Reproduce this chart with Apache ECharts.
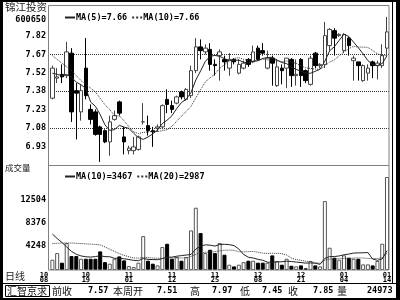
<!DOCTYPE html>
<html><head><meta charset="utf-8">
<script src="https://cdn.jsdelivr.net/npm/echarts@6/dist/echarts.min.js"></script>
<style>html,body{margin:0;padding:0;background:#fff}#c{width:400px;height:300px}</style>
</head><body><div id="c"></div>
<script>
// ---- data ----
const openP  = [7.32,7.48,7.51,7.50,7.68,7.38,7.21,7.56,7.23,7.21, 7.09,7.06,6.97,7.15,7.29,7.01,6.90,6.90,6.91,7.13, 7.10,7.06,7.08,7.09,7.31,7.26,7.28,7.37,7.31,7.34, 7.54,7.73,7.69,7.71,7.59,7.66,7.63,7.56,7.63,7.52, 7.56,7.63,7.61,7.72,7.70,7.56,7.64,7.42,7.56,7.56, 7.63,7.50,7.63,7.54,7.43,7.68,7.58,7.59,7.74,7.86, 7.82,7.70,7.80,7.62,7.61,7.46,7.52,7.61,7.58,7.58, 7.72];
const closeP = [7.56,7.49,7.49,7.69,7.21,7.36,7.38,7.34,7.15,7.03, 7.03,6.97,7.13,7.18,7.20,6.97,6.92,6.93,7.01,7.13, 7.06,7.05,7.09,7.26,7.27,7.23,7.33,7.33,7.39,7.54, 7.73,7.70,7.72,7.59,7.58,7.69,7.61,7.63,7.61,7.59, 7.60,7.59,7.69,7.63,7.68,7.64,7.60,7.57,7.54,7.64, 7.50,7.51,7.50,7.46,7.64,7.58,7.59,7.82,7.87,7.80, 7.83,7.83,7.74,7.64,7.58,7.58,7.56,7.58,7.60,7.66, 7.85];
const highP  = [7.58,7.56,7.59,7.77,7.72,7.44,7.43,7.80,7.27,7.23, 7.10,7.07,7.18,7.22,7.30,7.09,6.94,7.01,7.02,7.28, 7.18,7.09,7.11,7.27,7.39,7.30,7.34,7.38,7.40,7.58, 7.80,7.79,7.75,7.76,7.63,7.71,7.66,7.68,7.64,7.63, 7.62,7.64,7.74,7.74,7.76,7.70,7.66,7.63,7.59,7.64, 7.64,7.63,7.64,7.55,7.66,7.69,7.60,7.93,7.88,7.88, 7.84,7.84,7.81,7.66,7.61,7.59,7.59,7.62,7.62,7.75, 7.97];
const lowP   = [7.31,7.44,7.44,7.48,7.13,6.99,7.14,7.31,7.11,7.02, 6.81,6.96,6.86,7.14,7.18,6.87,6.87,6.87,6.90,7.11, 7.02,6.93,7.05,7.07,7.20,7.20,7.27,7.31,7.30,7.32, 7.52,7.63,7.67,7.54,7.50,7.46,7.54,7.50,7.59,7.51, 7.55,7.57,7.60,7.62,7.66,7.55,7.42,7.41,7.43,7.40, 7.41,7.42,7.41,7.44,7.42,7.56,7.56,7.56,7.70,7.66, 7.81,7.68,7.66,7.46,7.46,7.45,7.46,7.48,7.47,7.56, 7.66];
const volume = [1830,3010,1300,4790,2480,2480,2000,2000,2000,2000, 3310,1400,1120,2000,2420,1710,700,520,1300,6030, 1650,1120,820,4080,4670,2000,2300,1650,2300,7040, 11080,6570,3010,3600,3010,4790,2720,940,640,940, 1400,1650,1650,1300,1300,1300,2600,1590,940,2000, 760,640,820,300,1590,820,640,12260,3960,2180, 1830,2600,2180,2000,2000,1000,1000,820,1590,4670, 16540];
const ma5  = [7.52,7.51,7.50,7.51,7.486,7.448,7.427,7.397,7.289,7.255, 7.188,7.106,7.062,7.068,7.102,7.088,7.078,7.039,7.004,6.990, 7.009,7.034,7.065,7.116,7.144,7.179,7.236,7.285,7.311,7.365, 7.465,7.538,7.614,7.654,7.662,7.654,7.636,7.619,7.623,7.624, 7.607,7.603,7.615,7.619,7.638,7.644,7.647,7.624,7.605,7.596, 7.569,7.550,7.535,7.519,7.519,7.535,7.551,7.616,7.699,7.732, 7.783,7.831,7.814,7.768,7.723,7.674,7.620,7.589,7.581,7.597, 7.660];
const ma10 = [7.66,7.63,7.60,7.57,7.54,7.50,7.46,7.43,7.40,7.370, 7.318,7.266,7.229,7.179,7.178,7.138,7.092,7.051,7.036,7.046, 7.049,7.056,7.052,7.060,7.067,7.094,7.135,7.175,7.214,7.254, 7.322,7.387,7.450,7.483,7.513,7.559,7.587,7.617,7.638,7.643, 7.630,7.620,7.617,7.621,7.631,7.626,7.625,7.619,7.612,7.617, 7.607,7.599,7.579,7.562,7.558,7.552,7.551,7.576,7.609,7.626, 7.659,7.691,7.715,7.734,7.728,7.728,7.726,7.701,7.675,7.660, 7.662];
const volMa10 = [6400,5600,4900,4100,3300,2800,2500,2350,2300,2389, 2537,2376,2358,2079,2073,1996,1866,1718,1648,2051, 1885,1857,1827,2035,2260,2289,2449,2562,2662,2763, 3706,4251,4470,4422,4256,4535,4577,4506,4340,3730, 2762,2270,2134,1904,1733,1384,1372,1437,1467,1573, 1509,1408,1325,1225,1254,1206,1010,2077,2379,2397, 2504,2700,2836,3006,3047,3065,3101,1957,1720,1969, 3440];
const volMa20 = [4700,4750,4800,4800,4800,4750,4700,4650,4600,4550, 4450,4100,3700,3300,2900,2600,2350,2150,2100,2220, 2211,2117,2093,2057,2167,2143,2158,2140,2155,2407, 2796,3054,3149,3229,3258,3412,3513,3534,3501,3247, 3234,3261,3302,3163,2995,2960,2975,2972,2904,2652, 2136,1839,1730,1565,1494,1295,1191,1757,1923,1985, 2007,2054,2081,2116,2151,2136,2056,2017,2050,2183, 2972];
const xTickIndex = [0,7,16,25,34,43,52,61,70];
const xTickText  = [['10','08'],['10','19'],['11','01'],['11','12'],['11','25'],['12','08'],['12','21'],['01','04'],['01','14']];
const priceLegend = ['MA(5)=7.66','MA(10)=7.66'];
const volLegend   = ['MA(10)=3467','MA(20)=2987'];
const volTicks = [4248, 8376, 12504];
const stockName = '锦江投资', stockCode = '600650';
const statusItems = [['前收','7.57'],['本周开','7.51'],['高','7.97'],['低','7.45'],['收','7.85'],['量','24973']];

// ---- chart ----
const MONO = '"DejaVu Sans Mono", "Liberation Mono", monospace';
const CJK = '"Noto Sans CJK SC", sans-serif';
const cats = openP.map((_, i) => String(i));
const up = i => closeP[i] >= openP[i];
const chart = echarts.init(document.getElementById('c'));
const SOLID_ICON = 'rect';
const DOT_ICON = 'path://M0,0h1v1h-1zM2,0h1v1h-1zM4,0h1v1h-1zM6,0h1v1h-1zM8,0h1v1h-1zM10,0h1v1h-1z';

const statusPos = [[52,88],[113,157],[190,212],[240,262],[288,313],[337,367]];
const statusGraphics = [];
statusItems.forEach((it, k) => {
  statusGraphics.push({type:'text', silent:true, z:110, style:{text:it[0], x:statusPos[k][0], y:291, font:'10px ' + CJK, fill:'#111', verticalAlign:'middle'}});
  statusGraphics.push({type:'text', silent:true, z:110, style:{text:it[1], x:statusPos[k][1], y:291, font:'bold 8.5px ' + MONO, fill:'#000', verticalAlign:'middle'}});
});

const legendCommon = {itemWidth: 10, itemHeight: 1, itemGap: 4, selectedMode: false,
  textStyle: {fontFamily: MONO, fontWeight: 'bold', fontSize: 8.5, color: '#000', padding: [0,0,0,-4]}};

const option = {
  animation: false,
  backgroundColor: '#fff',
  grid: [
    {left: 50, top: 5, width: 339.4, height: 160},
    {left: 50, top: 165, width: 339.4, height: 105},
    {left: 48, top: 54.375, width: 341.4, height: 110.625}
  ],
  legend: [
    Object.assign({data: priceLegend, left: 59, top: 8}, legendCommon),
    Object.assign({data: volLegend, left: 59, top: 167}, legendCommon)
  ],
  xAxis: [
    {type: 'category', gridIndex: 0, data: cats, axisLine: {show: false}, axisTick: {show: false}, axisLabel: {show: false}},
    {type: 'category', gridIndex: 1, data: cats, axisLine: {show: false}, axisTick: {show: false},
     axisLabel: {interval: 0, margin: 2, color: '#000', fontFamily: MONO, fontWeight: 'bold', fontSize: 7, lineHeight: 5.5,
       formatter: (v, i) => {
         const k = xTickIndex.indexOf(i);
         if (k < 0) return '';
         const t = xTickText[k];
         return k === 0 ? '{s|' + t[0] + '}\n{s|' + t[1] + '}' : t[0] + '\n' + t[1];
       },
       rich: {s: {fontFamily: MONO, fontWeight: 'bold', fontSize: 7, lineHeight: 5.5, color: '#000', padding: [0, 17, 0, 0]}}}},
    {type: 'category', gridIndex: 2, data: cats, show: false}
  ],
  yAxis: [
    {type: 'value', gridIndex: 0, min: 6.785, max: 8.065, interval: 0.1475,
     axisLine: {show: false}, axisTick: {show: false}, splitLine: {show: false},
     axisLabel: {margin: 4, color: '#000', fontFamily: MONO, fontWeight: 'bold', fontSize: 8.5,
       formatter: v => (v > 6.9 && v < 7.9) ? (v + 1e-4).toFixed(2) : ''}},
    {type: 'value', gridIndex: 1, min: 0, max: 18680,
     axisLine: {show: false}, axisTick: {show: false}, splitLine: {show: false},
     axisLabel: {customValues: volTicks, margin: 4, color: '#000', fontFamily: MONO, fontWeight: 'bold', fontSize: 8.5,
       formatter: v => String(Math.round(v))}},
    {type: 'value', gridIndex: 2, min: 6.785, max: 7.67, interval: 0.295,
     axisLine: {show: false}, axisTick: {show: false}, axisLabel: {show: false},
     splitLine: {show: true, lineStyle: {type: 'dotted', color: '#333', width: 1}}}
  ],
  series: [
    {type: 'candlestick', xAxisIndex: 0, yAxisIndex: 0, barWidth: 4,
     data: openP.map((o, i) => [o, closeP[i], lowP[i], highP[i]]),
     itemStyle: {color: '#fff', color0: '#000', borderColor: '#444', borderColor0: '#000', borderWidth: 1}},
    {name: priceLegend[0], type: 'line', xAxisIndex: 0, yAxisIndex: 0, data: ma5, symbol: 'none', z: 5, legendIcon: SOLID_ICON,
     lineStyle: {color: '#222', width: 1}, itemStyle: {color: '#222'}},
    {name: priceLegend[1], type: 'line', xAxisIndex: 0, yAxisIndex: 0, data: ma10, symbol: 'none', z: 5, legendIcon: DOT_ICON,
     lineStyle: {color: '#333', width: 1, type: 'dotted'}, itemStyle: {color: '#333'}},
    {type: 'bar', xAxisIndex: 1, yAxisIndex: 1, barWidth: 4,
     data: volume.map((v, i) => ({value: v, itemStyle: up(i) ? {color: '#fff', borderColor: '#555', borderWidth: 1} : {color: '#000', borderColor: '#000', borderWidth: 1}}))},
    {name: volLegend[0], type: 'line', xAxisIndex: 1, yAxisIndex: 1, data: volMa10, symbol: 'none', z: 5, legendIcon: SOLID_ICON,
     lineStyle: {color: '#222', width: 1}, itemStyle: {color: '#222'}},
    {name: volLegend[1], type: 'line', xAxisIndex: 1, yAxisIndex: 1, data: volMa20, symbol: 'none', z: 5, legendIcon: DOT_ICON,
     lineStyle: {color: '#333', width: 1, type: 'dotted'}, itemStyle: {color: '#333'}}
  ],
  graphic: [
    {type: 'rect', silent: true, z: 100, shape: {x: 48.5, y: 5.5, width: 340.5, height: 264.5}, style: {fill: 'none', stroke: '#808080', lineWidth: 1}},
    {type: 'line', silent: true, z: 100, shape: {x1: 48, y1: 165.5, x2: 389, y2: 165.5}, style: {stroke: '#808080', lineWidth: 1}},
    {type: 'rect', silent: true, z: 100, shape: {x: 0, y: 0, width: 3, height: 300}, style: {fill: '#000'}},
    {type: 'rect', silent: true, z: 100, shape: {x: 0, y: 0, width: 400, height: 2}, style: {fill: '#000'}},
    {type: 'line', silent: true, z: 100, shape: {x1: 392.5, y1: 2, x2: 392.5, y2: 284}, style: {stroke: '#000', lineWidth: 1}},
    {type: 'rect', silent: true, z: 100, shape: {x: 396, y: 0, width: 4, height: 300}, style: {fill: '#000'}},
    {type: 'line', silent: true, z: 100, shape: {x1: 3, y1: 283.5, x2: 396, y2: 283.5}, style: {stroke: '#000', lineWidth: 1}},
    {type: 'rect', silent: true, z: 100, shape: {x: 0, y: 298, width: 400, height: 2}, style: {fill: '#000'}},
    {type: 'rect', silent: true, z: 100, shape: {x: 5.5, y: 285.5, width: 44, height: 11}, style: {fill: 'none', stroke: '#000', lineWidth: 1}},
    {type: 'text', silent: true, z: 110, style: {text: '汇智京求', x: 7, y: 291, font: '10px ' + CJK, fill: '#111', verticalAlign: 'middle'}},
    {type: 'text', silent: true, z: 110, style: {text: stockName, x: 5, y: 7, font: '10.5px ' + CJK, fill: '#222', verticalAlign: 'middle'}},
    {type: 'text', silent: true, z: 110, style: {text: stockCode, x: 46, y: 20, font: 'bold 8.5px ' + MONO, fill: '#000', align: 'right', verticalAlign: 'middle'}},
    {type: 'text', silent: true, z: 110, style: {text: '成交量', x: 5, y: 168, font: '8.5px ' + CJK, fill: '#222', verticalAlign: 'middle'}},
    {type: 'text', silent: true, z: 110, style: {text: '日线', x: 5, y: 276, font: '10px ' + CJK, fill: '#222', verticalAlign: 'middle'}}
  ].concat(statusGraphics)
};
chart.setOption(option);
</script>
</body></html>
